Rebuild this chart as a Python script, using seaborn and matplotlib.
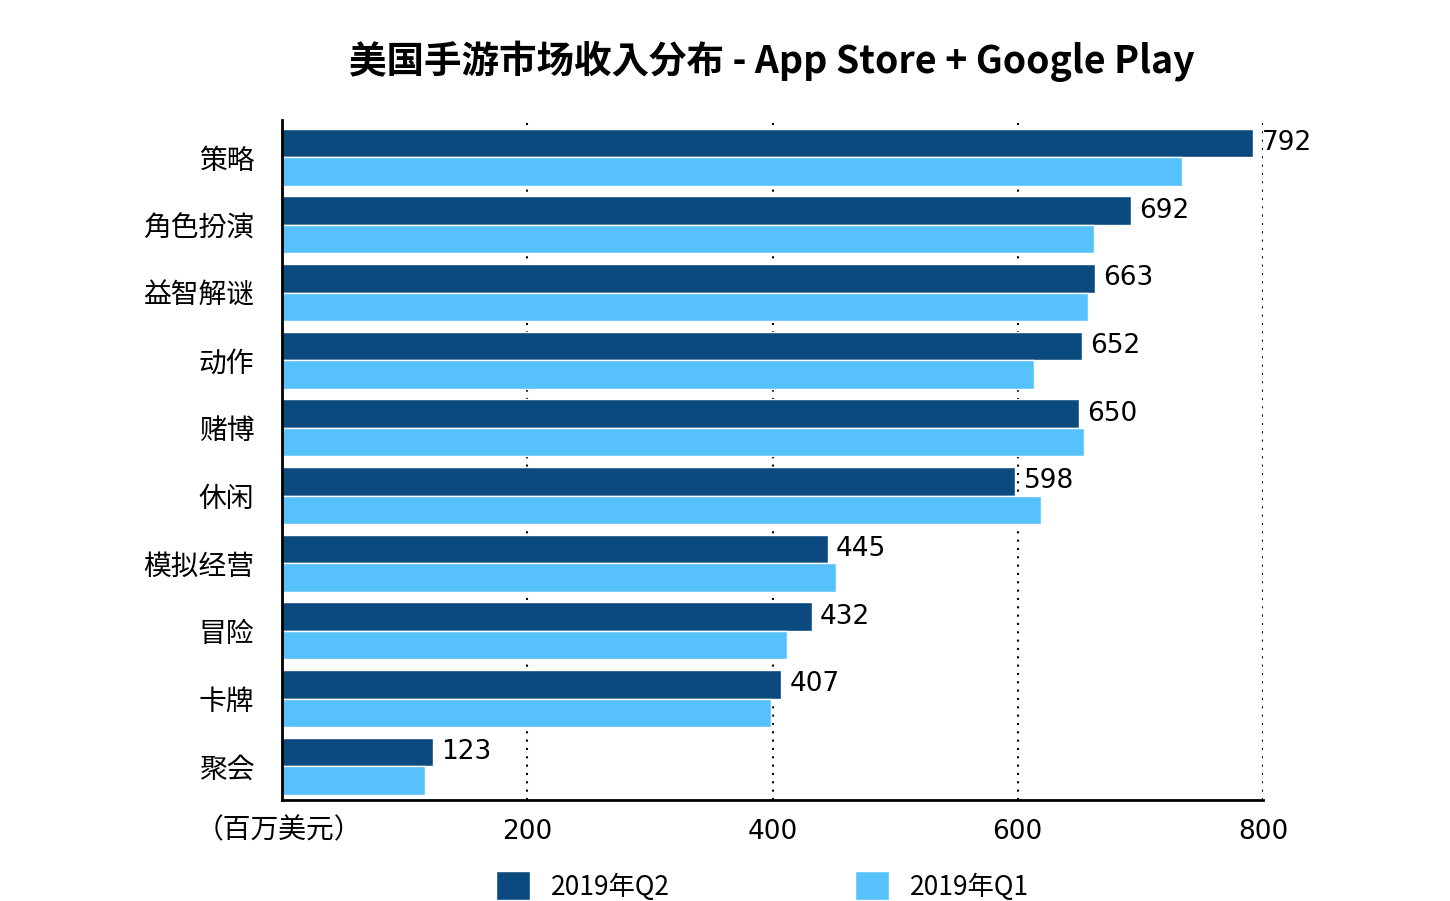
import matplotlib
matplotlib.use("Agg")
import matplotlib.pyplot as plt
from matplotlib import font_manager
import seaborn as sns
import pandas as pd

categories = ["策略", "角色扮演", "益智解谜", "动作", "赌博", "休闲", "模拟经营", "冒险", "卡牌", "聚会"]
q2 = [792, 692, 663, 652, 650, 598, 445, 432, 407, 123]
q1 = [734, 662, 657, 613, 654, 619, 452, 412, 399, 117]
series = ["2019年Q2", "2019年Q1"]
ticks = [200, 400, 600, 800]

names = sorted({f.name for f in font_manager.fontManager.ttflist if "CJK" in f.name})
pref = [n for n in ["Noto Sans CJK SC", "Noto Sans CJK JP"] if n in names] + names
cjk = pref[0] if pref else "DejaVu Sans"
plt.rcParams["font.family"] = "sans-serif"
plt.rcParams["font.sans-serif"] = [cjk, "DejaVu Sans"]

df = pd.DataFrame({"cat": categories * 2, "val": q2 + q1,
                   "s": [series[0]] * len(q2) + [series[1]] * len(q1)})

fig = plt.figure(figsize=(14.5, 9.01), dpi=100)
ax = fig.add_axes([282/1450, 1-800/901, 981/1450, 680/901])
sns.barplot(data=df, y="cat", x="val", hue="s", order=categories, hue_order=series,
            palette=["#0a4a7e", "#56c1fb"], width=0.84, saturation=1, ax=ax,
            edgecolor="white", linewidth=1, legend=True)
ax.set_xlim(0, 800)
ax.set_ylim(len(categories) - 0.5, -0.55)
ax.set_xticks(ticks)
ax.set_xticklabels([str(t) for t in ticks], fontsize=19, fontfamily="DejaVu Sans")
ax.tick_params(axis="x", length=0, pad=14)
ax.tick_params(axis="y", length=0, pad=32, labelsize=20)
ax.tick_params(axis="y", pad=20)
ax.set_xlabel(""); ax.set_ylabel("")
for t in ticks:
    ax.axvline(t, color="black", ls=(0, (1, 3)), lw=1.5, zorder=0)
for s in ["top", "right"]:
    ax.spines[s].set_visible(False)
ax.spines["left"].set_linewidth(2)
ax.spines["bottom"].set_linewidth(2)
ax.bar_label(ax.containers[0], fmt="%d", padding=6, fontsize=19, fontfamily="DejaVu Sans")
for txt in ax.texts:
    txt.set_va("center")
ax.text(0.082, -0.045, "（百万美元）", transform=ax.transAxes, ha="right", va="center", fontsize=20)
h, l = ax.get_legend_handles_labels()
ax.legend(h, l, loc="upper center", bbox_to_anchor=(0.49, -0.07), ncol=2, frameon=False,
          fontsize=19, handlelength=1.3, handleheight=1.3, columnspacing=7, handletextpad=0.8)
fig.suptitle("美国手游市场收入分布 - App Store + Google Play", x=0.532, y=0.955,
             fontsize=27, fontweight="bold")
fig.savefig("out.png", dpi=100)
